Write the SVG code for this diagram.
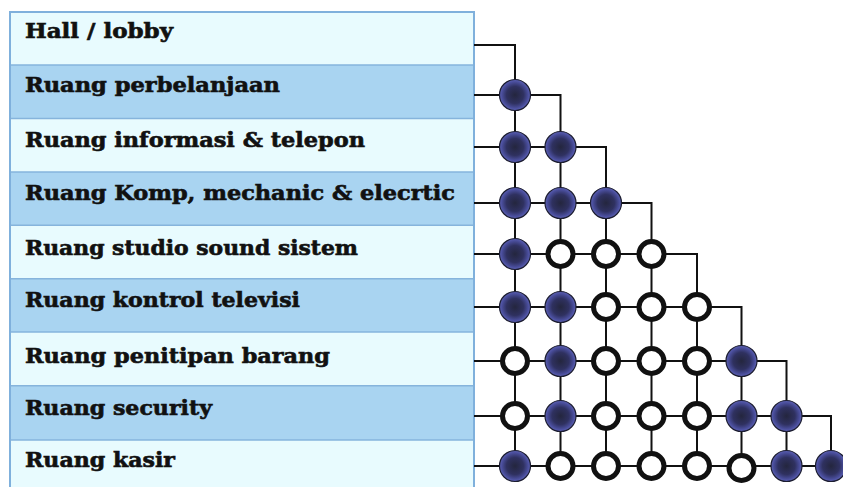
<svg xmlns="http://www.w3.org/2000/svg" width="843" height="487" viewBox="0 0 843 487">
  <defs>
    <radialGradient id="fillDot" cx="50%" cy="50%" r="50%">
      <stop offset="0%" stop-color="#24263e"/>
      <stop offset="55%" stop-color="#2f3160"/>
      <stop offset="85%" stop-color="#4a4e9c"/>
      <stop offset="100%" stop-color="#5d62b4"/>
    </radialGradient>
    <style>
      .row-light { fill: #e8fbfe; }
      .row-dark { fill: #a9d4f1; }
      .divider { stroke: #86b4dc; stroke-width: 1.5; }
      .frame { fill: none; stroke: #7fb0dc; stroke-width: 2; }
      .label { font-family: "DejaVu Serif", "Liberation Serif", serif; font-weight: bold; font-size: 20px; fill: #111111; stroke: #111111; stroke-width: 0.6; }
      .link { fill: none; stroke: #111111; stroke-width: 2; }
      .full { fill: url(#fillDot); stroke: #1c1d30; stroke-width: 1.2; }
      .open { fill: #ffffff; stroke: #111111; stroke-width: 5; }
    </style>
  </defs>

  <rect width="843" height="487" fill="#ffffff"/>

  <!-- room list table -->
  <g id="rooms">
    <g id="room-hall">
      <rect class="row-light" x="10" y="12" width="464" height="53"/>
      <text class="label" x="25" y="38" textLength="148" lengthAdjust="spacingAndGlyphs">Hall / lobby</text>
    </g>
    <g id="room-perbelanjaan">
      <rect class="row-dark" x="10" y="65" width="464" height="53.5"/>
      <text class="label" x="25" y="92" textLength="255" lengthAdjust="spacingAndGlyphs">Ruang perbelanjaan</text>
    </g>
    <g id="room-informasi">
      <rect class="row-light" x="10" y="118.5" width="464" height="53.5"/>
      <text class="label" x="25" y="147" textLength="340" lengthAdjust="spacingAndGlyphs">Ruang informasi &amp; telepon</text>
    </g>
    <g id="room-komp">
      <rect class="row-dark" x="10" y="172" width="464" height="53.3"/>
      <text class="label" x="25" y="200" textLength="430" lengthAdjust="spacingAndGlyphs">Ruang Komp, mechanic &amp; elecrtic</text>
    </g>
    <g id="room-studio">
      <rect class="row-light" x="10" y="225.3" width="464" height="53.4"/>
      <text class="label" x="25" y="255" textLength="333" lengthAdjust="spacingAndGlyphs">Ruang studio sound sistem</text>
    </g>
    <g id="room-kontrol">
      <rect class="row-dark" x="10" y="278.7" width="464" height="53.3"/>
      <text class="label" x="25" y="307" textLength="275" lengthAdjust="spacingAndGlyphs">Ruang kontrol televisi</text>
    </g>
    <g id="room-penitipan">
      <rect class="row-light" x="10" y="332" width="464" height="53.7"/>
      <text class="label" x="25" y="363" textLength="305" lengthAdjust="spacingAndGlyphs">Ruang penitipan barang</text>
    </g>
    <g id="room-security">
      <rect class="row-dark" x="10" y="385.7" width="464" height="54.3"/>
      <text class="label" x="25" y="415" textLength="187" lengthAdjust="spacingAndGlyphs">Ruang security</text>
    </g>
    <g id="room-kasir">
      <rect class="row-light" x="10" y="440" width="464" height="50"/>
      <text class="label" x="25" y="467" textLength="150" lengthAdjust="spacingAndGlyphs">Ruang kasir</text>
    </g>
    <g id="table-lines">
      <line class="divider" x1="10" y1="65" x2="474" y2="65"/>
      <line class="divider" x1="10" y1="118.5" x2="474" y2="118.5"/>
      <line class="divider" x1="10" y1="172" x2="474" y2="172"/>
      <line class="divider" x1="10" y1="225.3" x2="474" y2="225.3"/>
      <line class="divider" x1="10" y1="278.7" x2="474" y2="278.7"/>
      <line class="divider" x1="10" y1="332" x2="474" y2="332"/>
      <line class="divider" x1="10" y1="385.7" x2="474" y2="385.7"/>
      <line class="divider" x1="10" y1="440" x2="474" y2="440"/>
      <path class="frame" d="M10 492 V12 H474 V492"/>
    </g>
  </g>

  <!-- connector grid: each row runs right, then drops down its column -->
  <g id="connectors">
    <path class="link" d="M474 45 H515 V466"/>
    <path class="link" d="M474 95 H560.5 V466"/>
    <path class="link" d="M474 147 H606 V466"/>
    <path class="link" d="M474 203 H651.5 V466"/>
    <path class="link" d="M474 254 H697 V466"/>
    <path class="link" d="M474 307 H741.5 V466"/>
    <path class="link" d="M474 361 H786.5 V466"/>
    <path class="link" d="M474 416 H831 V466"/>
    <path class="link" d="M474 466 H831"/>
  </g>

  <!-- relation markers: filled = close relation, open = distant relation -->
  <g id="relations">
    <g id="rel-row-perbelanjaan">
      <circle class="full" cx="515" cy="95" r="15.5"/>
    </g>
    <g id="rel-row-informasi">
      <circle class="full" cx="515" cy="147" r="15.5"/>
      <circle class="full" cx="560.5" cy="147" r="15.5"/>
    </g>
    <g id="rel-row-komp">
      <circle class="full" cx="515" cy="203" r="15.5"/>
      <circle class="full" cx="560.5" cy="203" r="15.5"/>
      <circle class="full" cx="606" cy="203" r="15.5"/>
    </g>
    <g id="rel-row-studio">
      <circle class="full" cx="515" cy="254" r="15.5"/>
      <circle class="open" cx="560.5" cy="254" r="12.5"/>
      <circle class="open" cx="606" cy="254" r="12.5"/>
      <circle class="open" cx="651.5" cy="254" r="12.5"/>
    </g>
    <g id="rel-row-kontrol">
      <circle class="full" cx="515" cy="307" r="15.5"/>
      <circle class="full" cx="560.5" cy="307" r="15.5"/>
      <circle class="open" cx="606" cy="307" r="12.5"/>
      <circle class="open" cx="651.5" cy="307" r="12.5"/>
      <circle class="open" cx="697" cy="307" r="12.5"/>
    </g>
    <g id="rel-row-penitipan">
      <circle class="open" cx="515" cy="361" r="12.5"/>
      <circle class="full" cx="560.5" cy="361" r="15.5"/>
      <circle class="open" cx="606" cy="361" r="12.5"/>
      <circle class="open" cx="651.5" cy="361" r="12.5"/>
      <circle class="open" cx="697" cy="361" r="12.5"/>
      <circle class="full" cx="741.5" cy="361" r="15.5"/>
    </g>
    <g id="rel-row-security">
      <circle class="open" cx="515" cy="416" r="12.5"/>
      <circle class="full" cx="560.5" cy="416" r="15.5"/>
      <circle class="open" cx="606" cy="416" r="12.5"/>
      <circle class="open" cx="651.5" cy="416" r="12.5"/>
      <circle class="open" cx="697" cy="416" r="12.5"/>
      <circle class="full" cx="741.5" cy="416" r="15.5"/>
      <circle class="full" cx="786.5" cy="416" r="15.5"/>
    </g>
    <g id="rel-row-kasir">
      <circle class="full" cx="515" cy="466" r="15.5"/>
      <circle class="open" cx="560.5" cy="466" r="12.5"/>
      <circle class="open" cx="606" cy="466" r="12.5"/>
      <circle class="open" cx="651.5" cy="466" r="12.5"/>
      <circle class="open" cx="697" cy="466" r="12.5"/>
      <circle class="open" cx="741.5" cy="468" r="12.5"/>
      <circle class="full" cx="786.5" cy="466" r="15.5"/>
      <circle class="full" cx="831" cy="466" r="15.5"/>
    </g>
  </g>
</svg>
